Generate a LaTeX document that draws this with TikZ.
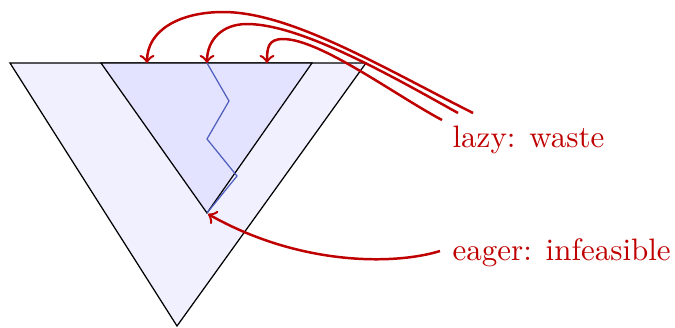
\documentclass[tikz,border=0pt]{standalone}
\begin{document}
\begin{tikzpicture}[x=0.3226pt, y=-0.3226pt,
  outertri/.style={draw=black, line width=0.4pt, fill=blue!6, line join=miter},
  innertri/.style={draw=black, line width=0.4pt, fill=blue!11},
  zig/.style={draw={rgb,255:red,80;green,95;blue,190}, line width=0.4pt},
  redarrow/.style={draw=red!75!black, line width=0.8pt, ->},
  lbl/.style={text=red!75!black, anchor=base west, inner sep=0pt, font=\normalsize}]
\useasboundingbox (0,0) rectangle (675,327);
% triangles
\coordinate (oa) at (10,63);
\coordinate (ob) at (366,63);
\coordinate (oc) at (177,326);
\coordinate (ia) at (101,63);
\coordinate (ib) at (312,63);
\coordinate (ic) at (207,213);
\path[outertri] (oa) -- (ob) -- (oc) -- cycle;
\path[innertri] (ia) -- (ib) -- (ic) -- cycle;
% zigzag
\coordinate (z0) at (207,63);
\coordinate (z1) at (229,101);
\coordinate (z2) at (207,139);
\coordinate (z3) at (237,176);
\path[zig] (z0) -- (z1) -- (z2) -- (z3) -- (ic);
% labels
\node[lbl] (lazy) at (452,147) {lazy: waste};
\node[lbl] (eager) at (452,260) {eager: infeasible};
% arrow start and end points
\coordinate (l1) at (473,113);
\coordinate (l2) at (458,113);
\coordinate (l3) at (442,120);
\coordinate (e0) at (440,251);
\coordinate (t1) at (147,63);
\coordinate (t2) at (207,63);
\coordinate (t3) at (267,63);
\coordinate (te) at (208,214);
\coordinate (p1) at (223,12);
\coordinate (p2) at (247,24);
\coordinate (p3) at (283,39);
% lazy arrows
\path[redarrow] (l1) .. controls (380,66) and (290,12) .. (p1)
   .. controls (180,12) and (147,30) .. (t1);
\path[redarrow] (l2) .. controls (390,75) and (300,24) .. (p2)
   .. controls (222,24) and (207,40) .. (t2);
\path[redarrow] (l3) .. controls (395,95) and (320,39) .. (p3)
   .. controls (268,39) and (267,48) .. (t3);
% eager arrow
\path[redarrow] (e0) .. controls (395,265) and (300,266) .. (te);
\end{tikzpicture}
\end{document}
